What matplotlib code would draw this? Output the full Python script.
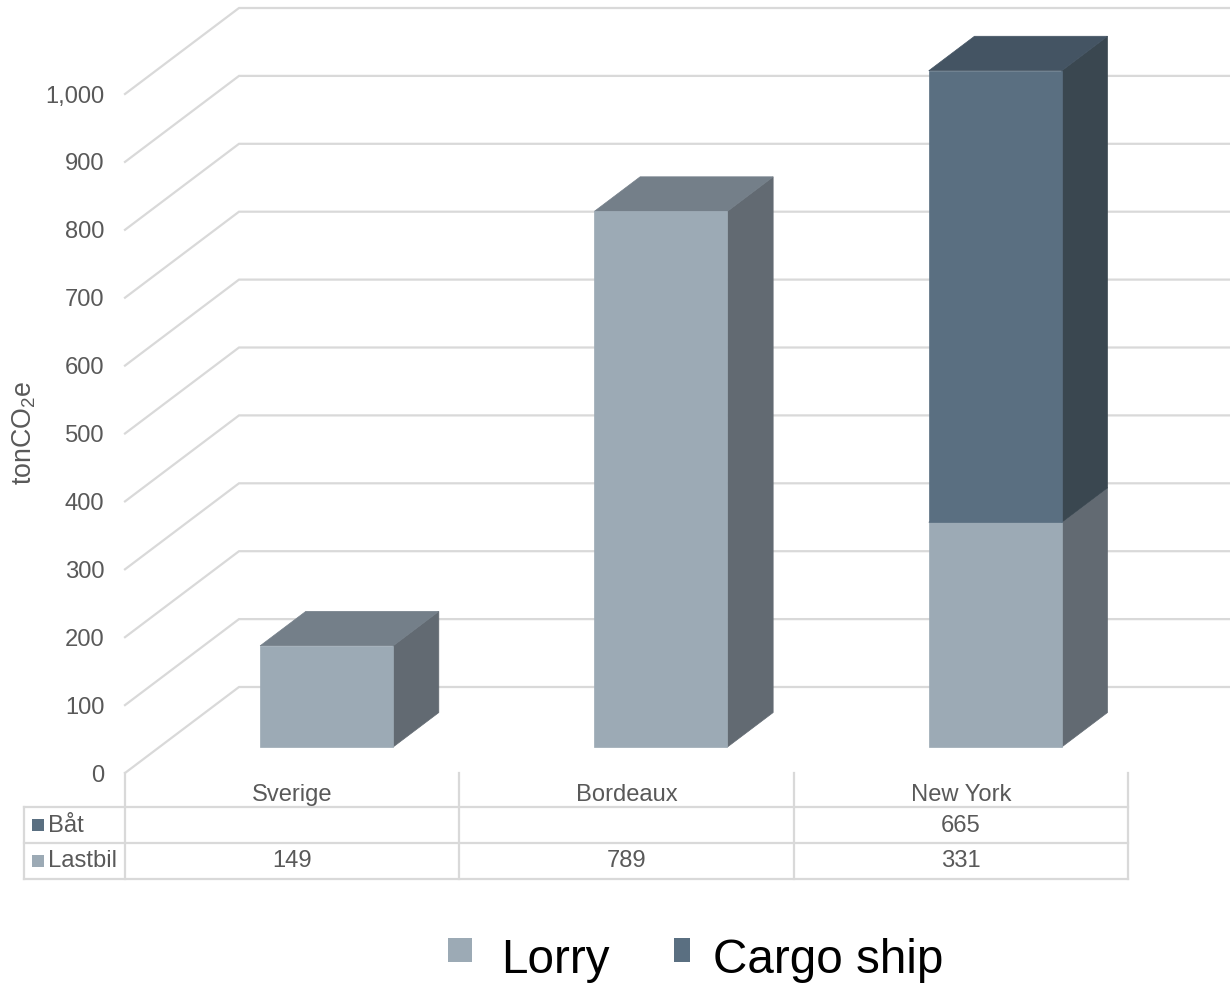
import matplotlib.pyplot as plt
from matplotlib.patches import Polygon, Rectangle

plt.rcParams['font.family'] = ['Liberation Sans', 'DejaVu Sans']
plt.rcParams['mathtext.default'] = 'regular'

# Data
Categories = ["Sverige", "Bordeaux", "New York"]
Lastbil = [149, 789, 331]
Bat = [None, None, 665]
Ticks = [0, 100, 200, 300, 400, 500, 600, 700, 800, 900, 1000]
TickLabels = ["0", "100", "200", "300", "400", "500", "600", "700", "800", "900", "1,000"]
TableRows = ["Båt", "Lastbil"]
LegendLabels = ["Lorry", "Cargo ship"]

# Colours: front, side, top
LorryColors = ("#9CAAB5", "#626A72", "#747F89")
ShipColors = ("#5A6F81", "#3A4750", "#445463")
GridColor = "#D9D9D9"
TextColor = "#595959"

W, H = 1230, 983
Left, Right, Top, Bottom = 125, 1128, 94, 773
ValuePx = (Bottom - Top) / 1000
CatPx = (Right - Left) / 3
FontSize = 17.1
LineWidth = 1.6

# depth of the 3D box, in axis units
DepthX = 114 / CatPx
DepthY = 86 / ValuePx
BarWidth = 133 / CatPx
BarFront = 0.302
BarBack = 0.703

fig = plt.figure(figsize=(W / 100, H / 100), dpi=100)
ax = fig.add_axes([Left / W, 1 - Bottom / H, (Right - Left) / W, (Bottom - Top) / H])
ax.set_xlim(0, 3)
ax.set_ylim(0, 1000)
for s in ax.spines.values():
    s.set_visible(False)


def project(x, v, depth):
    return (x + depth * DepthX, v + depth * DepthY)


def row_y(py):
    # table sits under the axis, py is a pixel row in the picture
    return (Bottom - py) / ValuePx


# Walls
for t in Ticks:
    a = project(0, t, 0)
    b = project(0, t, 1)
    c = project(3.5, t, 1)
    ax.plot([a[0], b[0], c[0]], [a[1], b[1], c[1]], color=GridColor, lw=LineWidth,
            clip_on=False, zorder=1, solid_joinstyle='miter')


def box(center, v0, v1, colors):
    x0 = center - BarWidth / 2
    x1 = center + BarWidth / 2
    side = [project(x1, v0, BarFront), project(x1, v0, BarBack),
            project(x1, v1, BarBack), project(x1, v1, BarFront)]
    top = [project(x0, v1, BarFront), project(x1, v1, BarFront),
           project(x1, v1, BarBack), project(x0, v1, BarBack)]
    front = [project(x0, v0, BarFront), project(x1, v0, BarFront),
             project(x1, v1, BarFront), project(x0, v1, BarFront)]
    for pts, col in ((side, colors[1]), (top, colors[2]), (front, colors[0])):
        ax.add_patch(Polygon(pts, closed=True, facecolor=col, edgecolor=col, lw=0.5,
                             clip_on=False, zorder=3))


for i in range(len(Categories)):
    c = i + 0.5
    box(c, 0, Lastbil[i], LorryColors)
    if Bat[i] is not None:
        box(c, Lastbil[i], Lastbil[i] + Bat[i], ShipColors)

# Axis text
ax.set_yticks(Ticks)
ax.set_yticklabels(TickLabels, fontsize=FontSize, color=TextColor)
ax.set_xticks([0.5, 1.5, 2.5])
ax.set_xticklabels(Categories, fontsize=FontSize, color=TextColor)
ax.tick_params(axis='y', length=0, pad=15)
ax.tick_params(axis='x', length=0, pad=8)
ax.set_ylabel("tonCO$_2$e", fontsize=19.3, color=TextColor)
ax.yaxis.set_label_coords((38 - Left) / (Right - Left), (Bottom - 433) / (Bottom - Top))

# Data table
Rows = [807, 843, 878.5]
TableLeft = (24 - Left) / CatPx
for py in Rows:
    ax.plot([TableLeft, 3], [row_y(py)] * 2, color=GridColor, lw=LineWidth, clip_on=False, zorder=1)
for x in range(4):
    ax.plot([x, x], [0, row_y(Rows[-1])], color=GridColor, lw=LineWidth, clip_on=False, zorder=1)
ax.plot([TableLeft, TableLeft], [row_y(Rows[0]), row_y(Rows[-1])], color=GridColor, lw=LineWidth,
        clip_on=False, zorder=1)

for r, (name, values, col) in enumerate(zip(TableRows, (Bat, Lastbil), (ShipColors[0], LorryColors[0]))):
    mid = (Rows[r] + Rows[r + 1]) / 2
    ax.add_patch(Rectangle(((32 - Left) / CatPx, row_y(mid + 6)), 12 / CatPx, 12 / ValuePx,
                           facecolor=col, edgecolor='none', clip_on=False))
    ax.text((48.5 - Left) / CatPx, row_y(mid - 2), name, fontsize=FontSize, color=TextColor,
            va='center_baseline', ha='left', clip_on=False)
    for i, v in enumerate(values):
        if v is not None:
            ax.text(i + 0.5, row_y(mid - 2), str(v), fontsize=FontSize, color=TextColor,
                    va='center_baseline', ha='center', clip_on=False)

# Legend
LegendKeys = [(448, 24, LorryColors[0]), (674, 16, ShipColors[0])]
LegendText = [501, 713]
for (x, w, col), tx, label in zip(LegendKeys, LegendText, LegendLabels):
    fig.add_artist(Rectangle((x / W, 1 - 962 / H), w / W, 24 / H, facecolor=col,
                             edgecolor='none', transform=fig.transFigure))
    fig.text(tx / W, 1 - 973 / H, label, fontsize=34.3, color='black', ha='left', va='baseline')

fig.savefig('out.png', dpi=100)
